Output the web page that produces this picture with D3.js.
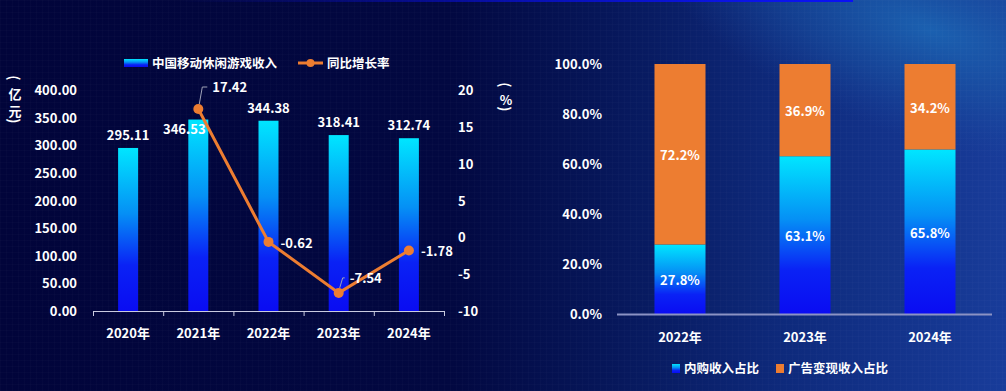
<!DOCTYPE html>
<html><head><meta charset="utf-8">
<script src="https://cdn.jsdelivr.net/npm/d3@7"></script>
<style>
html,body{margin:0;padding:0;background:#01043a;}
svg{display:block;font-family:"Noto Sans CJK SC","Noto Sans",sans-serif;font-weight:bold;}
</style></head>
<body>
<svg id="chart" width="1006" height="391"></svg>
<script>
// ---------- data ----------
const years = ["2020年","2021年","2022年","2023年","2024年"];
const revenue = [295.11, 346.53, 344.38, 318.41, 312.74];
const growth = [null, 17.42, -0.62, -7.54, -1.78];
const leftTicks = [0,50,100,150,200,250,300,350,400];
const rightTicks = [-10,-5,0,5,10,15,20];
const seriesNames = ["中国移动休闲游戏收入","同比增长率"];
const leftUnit = ["(","亿","元",")"];
const rightUnit = ["(","%",")"];

const shareYears = ["2022年","2023年","2024年"];
const iapShare = [27.8, 63.1, 65.8];
const adShare = [72.2, 36.9, 34.2];
const shareTicks = [0,20,40,60,80,100];
const shareNames = ["内购收入占比","广告变现收入占比"];

// ---------- setup ----------
const svg = d3.select("#chart");
const W = 1006, H = 391;
const ORANGE = "#ed7d31";
const defs = svg.append("defs");

const bgGrad = defs.append("linearGradient").attr("id","bg").attr("x1",0).attr("x2",1).attr("y1",0).attr("y2",0);
[[0,"#01043a"],[0.45,"#020841"],[0.6,"#061659"],[0.78,"#0e2a7c"],[1,"#183c9a"]].forEach(s=>bgGrad.append("stop").attr("offset",s[0]).attr("stop-color",s[1]));
const glow = defs.append("radialGradient").attr("id","glow").attr("cx",0.5).attr("cy",0.5).attr("r",0.5);
glow.append("stop").attr("offset",0).attr("stop-color","#1c68b6").attr("stop-opacity",0.85);
glow.append("stop").attr("offset",0.55).attr("stop-color","#1a58a8").attr("stop-opacity",0.45);
glow.append("stop").attr("offset",1).attr("stop-color","#1a4aa0").attr("stop-opacity",0);
const topLine = defs.append("linearGradient").attr("id","topline").attr("x1",0).attr("x2",1);
topLine.append("stop").attr("offset",0).attr("stop-color","#0a10f0").attr("stop-opacity",0);
topLine.append("stop").attr("offset",0.5).attr("stop-color","#0a10f0").attr("stop-opacity",0.6);
topLine.append("stop").attr("offset",1).attr("stop-color","#0a10f5").attr("stop-opacity",1);
const barGrad = defs.append("linearGradient").attr("id","barg").attr("x1",0).attr("x2",0).attr("y1",0).attr("y2",1);
[[0,"#00e6ff"],[0.4,"#0590f5"],[0.72,"#0a22f5"],[1,"#0a0cf2"]].forEach(s=>barGrad.append("stop").attr("offset",s[0]).attr("stop-color",s[1]));
const pat = defs.append("pattern").attr("id","grid").attr("width",6).attr("height",6).attr("patternUnits","userSpaceOnUse");
pat.append("path").attr("d","M6 0 L0 0 0 6").attr("fill","none").attr("stroke","#ffffff").attr("stroke-opacity",0.03).attr("stroke-width",1);

svg.append("rect").attr("width",W).attr("height",H).attr("fill","url(#bg)");
svg.append("ellipse").attr("cx",0).attr("cy",0).attr("rx",280).attr("ry",110)
  .attr("transform","translate(930,30) rotate(18)").attr("fill","url(#glow)");
svg.append("rect").attr("width",W).attr("height",H).attr("fill","url(#grid)");
svg.append("rect").attr("x",180).attr("y",0).attr("width",673).attr("height",2).attr("fill","url(#topline)");

const txt = (g, x, y, s, anchor="middle", size=13) => g.append("text").attr("x",x).attr("y",y)
  .attr("fill","#fff").attr("font-size",size).attr("text-anchor",anchor).text(s);

// vertical unit label: parentheses rotated, characters upright
function vlabel(g, x, ys, chars){
  chars.forEach((c,i)=>{
    const y = ys[i];
    const t = g.append("text").attr("fill","#fff").attr("font-size",13).attr("text-anchor","middle")
      .attr("dominant-baseline","central").text(c);
    if(c==="("||c===")") t.attr("font-size",14).attr("transform",`translate(${x},${y}) rotate(90)`);
    else t.attr("x",x).attr("y",y);
  });
}

// ---------- left chart ----------
const L = svg.append("g");
const x = d3.scaleBand().domain(years).range([93,444]);
const yL = d3.scaleLinear().domain([0,400]).range([311,90]);
const yR = d3.scaleLinear().domain([-10,20]).range([311,90]);
const barW = 20;
const cx = d => x(d) + x.bandwidth()/2;

leftTicks.forEach(t => txt(L, 77, yL(t)+5, t.toFixed(2), "end"));
rightTicks.forEach(t => txt(L, 458, yR(t)+5, String(t), "start"));

vlabel(L, 15, [78,93,110,121], leftUnit);
vlabel(L, 506, [85,99,109], rightUnit);

// x axis
L.append("line").attr("x1",93).attr("x2",444).attr("y1",311.5).attr("y2",311.5).attr("stroke","#c9cbe0").attr("stroke-width",1);
x.domain().concat([null]).forEach(d=>{
  const xx = d===null ? x.range()[1] : x(d);
  L.append("line").attr("x1",xx+0.5).attr("x2",xx+0.5).attr("y1",311).attr("y2",316).attr("stroke","#c9cbe0");
});
years.forEach(d => txt(L, cx(d), 338, d));

// bars
L.selectAll(".bar").data(years).join("rect").attr("class","bar")
  .attr("x",d=>cx(d)-barW/2).attr("width",barW)
  .attr("y",(d,i)=>yL(revenue[i])).attr("height",(d,i)=>yL(0)-yL(revenue[i]))
  .attr("fill","url(#barg)");
const barLabelDx = [0,-14,0,0,0], barLabelDy = [-8,14,-8,-8,-8];
years.forEach((d,i)=> txt(L, cx(d)+barLabelDx[i], yL(revenue[i])+barLabelDy[i], revenue[i].toFixed(2)));

// line
const pts = years.map((d,i)=>({d, v:growth[i]})).filter(p=>p.v!==null);
L.append("path").datum(pts).attr("fill","none").attr("stroke",ORANGE).attr("stroke-width",3)
  .attr("d", d3.line().x(p=>cx(p.d)).y(p=>yR(p.v)));
L.selectAll(".pt").data(pts).join("circle").attr("cx",p=>cx(p.d)).attr("cy",p=>yR(p.v)).attr("r",5).attr("fill",ORANGE);
const lineLabelPos = {"2021年":[14,-17,true],"2022年":[12,6,false],"2023年":[11,-10,true],"2024年":[12,6,false]};
pts.forEach(p=>{
  const [dx,dy,lead] = lineLabelPos[p.d];
  const px = cx(p.d), py = yR(p.v);
  if(lead){
    const ly = py+dy-5;
    L.append("path").attr("d",`M${px+1},${py-5} L${px+4},${ly} L${px+dx-5},${ly}`)
      .attr("fill","none").attr("stroke","#a0a3b8").attr("stroke-width",1);
  }
  txt(L, px+dx, py+dy, p.v.toFixed(2), "start");
});

// legend left
L.append("rect").attr("x",124).attr("y",59).attr("width",24).attr("height",8).attr("fill","url(#barg)");
txt(L,152,68,seriesNames[0],"start",12.5);
L.append("line").attr("x1",298).attr("x2",323).attr("y1",63).attr("y2",63).attr("stroke",ORANGE).attr("stroke-width",3);
L.append("circle").attr("cx",310.5).attr("cy",63).attr("r",4).attr("fill",ORANGE);
txt(L,327,68,seriesNames[1],"start",12.5);

// ---------- right chart ----------
const R = svg.append("g");
const x2 = d3.scaleBand().domain(shareYears).range([617.5,992.5]);
const y2 = d3.scaleLinear().domain([0,100]).range([314,64]);
const bw2 = 51;
const cx2 = d => x2(d) + x2.bandwidth()/2;
shareTicks.forEach(t => txt(R, 602, y2(t)+5, t.toFixed(1)+"%", "end"));

shareYears.forEach((d,i)=>{
  R.append("rect").attr("x",cx2(d)-bw2/2).attr("width",bw2)
    .attr("y",y2(iapShare[i])).attr("height",y2(0)-y2(iapShare[i])).attr("fill","url(#barg)");
  R.append("rect").attr("x",cx2(d)-bw2/2).attr("width",bw2)
    .attr("y",y2(iapShare[i]+adShare[i])).attr("height",y2(iapShare[i])-y2(iapShare[i]+adShare[i])).attr("fill",ORANGE);
  txt(R, cx2(d), (y2(0)+y2(iapShare[i]))/2+6, iapShare[i].toFixed(1)+"%");
  txt(R, cx2(d), (y2(iapShare[i])+y2(iapShare[i]+adShare[i]))/2+6, adShare[i].toFixed(1)+"%");
  txt(R, cx2(d), 342, d);
});
R.append("line").attr("x1",617).attr("x2",992).attr("y1",314.5).attr("y2",314.5).attr("stroke","#8c93c4").attr("stroke-width",2);

// legend right
R.append("rect").attr("x",672).attr("y",364).attr("width",8).attr("height",9).attr("fill","url(#barg)");
txt(R,684,373,shareNames[0],"start",12.5);
R.append("rect").attr("x",776).attr("y",364).attr("width",8).attr("height",9).attr("fill",ORANGE);
txt(R,788,373,shareNames[1],"start",12.5);
</script>
</body></html>
